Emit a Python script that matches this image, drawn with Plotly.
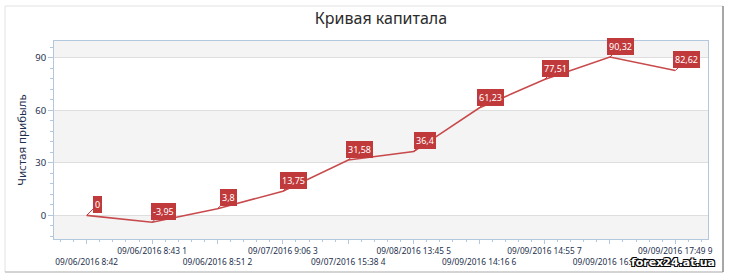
import plotly.graph_objects as go

# ---- data ----
trade_idx = [0, 1, 2, 3, 4, 5, 6, 7, 8, 9]
tick_labels = [
    "09/06/2016 8:42",
    "09/06/2016 8:43 1",
    "09/06/2016 8:51 2",
    "09/07/2016 9:06 3",
    "09/07/2016 15:38 4",
    "09/08/2016 13:45 5",
    "09/09/2016 14:16 6",
    "09/09/2016 14:55 7",
    "09/09/2016 16:51 8",
    "09/09/2016 17:49 9",
]
net_profit = [0, -3.95, 3.8, 13.75, 31.58, 36.4, 61.23, 77.51, 90.32, 82.62]
y_ticks = [0, 30, 60, 90]

W, H = 729, 278
ML, MR, MT, MB = 54, 21, 41, 39
YR = [-13.5, 99.5]
LINE = "#c84a4c"
LBL = "#c0393b"
AXC = "#b3c7de"
TXT = "#1e2f4d"
FONT = "Noto Sans"

def fmt(v):
    return ("%g" % v).replace(".", ",")

# staggered tick labels: even -> lower row, odd -> upper row
ticktext = [("<br>" + t) if i % 2 == 0 else t for i, t in enumerate(tick_labels)]

fig = go.Figure()
fig.add_trace(go.Scatter(
    x=trade_idx, y=net_profit, mode="lines",
    line=dict(color=LINE, width=1.6), hoverinfo="skip", showlegend=False,
))

# alternating background bands
shapes = []
bands = [(YR[0], 0, True), (0, 30, False), (30, 60, True), (60, 90, False), (90, YR[1], True)]
for y0, y1, filled in bands:
    if filled:
        shapes.append(dict(type="rect", xref="paper", yref="y", x0=0, x1=1, y0=y0, y1=y1,
                           fillcolor="#f4f4f4", line=dict(width=0), layer="below"))

# outer frame
pw = W - ML - MR
ph = H - MT - MB
def px2paper_x(px):
    return (px - ML) / pw
def py2paper_y(py):
    return (H - MB - py) / ph
fx0, fx1 = px2paper_x(5), px2paper_x(723)
fy0, fy1 = py2paper_y(272), py2paper_y(6)
shapes += [
    dict(type="line", xref="paper", yref="paper", x0=fx0, x1=fx1, y0=fy1, y1=fy1, line=dict(color="#e2e2e2", width=1)),
    dict(type="line", xref="paper", yref="paper", x0=fx0, x1=fx0, y0=fy0, y1=fy1, line=dict(color="#e2e2e2", width=1)),
    dict(type="line", xref="paper", yref="paper", x0=fx0, x1=fx1, y0=fy0, y1=fy0, line=dict(color="#a8a8a8", width=1)),
    dict(type="line", xref="paper", yref="paper", x0=fx1, x1=fx1, y0=fy0, y1=fy1, line=dict(color="#8a8a8a", width=1.5)),
]

annotations = []
for xi, v in zip(trade_idx, net_profit):
    annotations.append(dict(
        x=xi, y=v, xref="x", yref="y", text=fmt(v),
        showarrow=True, ax=11, ay=-11, arrowhead=0, arrowwidth=1, arrowcolor=LBL,
        bgcolor=LBL, bordercolor=LBL, borderwidth=1, borderpad=1,
        font=dict(color="white", size=9, family=FONT),
    ))

# watermark
annotations.append(dict(
    x=px2paper_x(673), y=py2paper_y(262), xref="paper", yref="paper",
    xanchor="center", yanchor="middle",
    text="<b>forex24.at.ua</b>", showarrow=False,
    font=dict(color="white", size=11, family="DejaVu Sans",
              shadow="1px 1px 0 #000, -1px -1px 0 #000, 1px -1px 0 #000, -1px 1px 0 #000"),
))

fig.update_layout(
    width=W, height=H,
    margin=dict(l=ML, r=MR, t=MT, b=MB, autoexpand=False),
    paper_bgcolor="white", plot_bgcolor="white",
    font=dict(family=FONT, color=TXT, size=10),
    title=dict(text="Кривая капитала", x=0.5, xref="paper", y=1 - 18 / H, yanchor="middle",
               font=dict(size=16, color="#2b2b2b", family=FONT)),
    shapes=shapes, annotations=annotations,
    xaxis=dict(
        range=[-0.5, 9.5], tickmode="array", tickvals=trade_idx, ticktext=ticktext,
        ticks="outside", ticklen=4, tickcolor=AXC, showline=True, linecolor=AXC, mirror=True,
        showgrid=False, zeroline=False, tickangle=0, automargin=False,
        tickfont=dict(size=8.3, color=TXT, family=FONT),
        minor=dict(dtick=0.2, ticks="outside", ticklen=2, tickcolor=AXC, showgrid=False),
    ),
    yaxis=dict(
        range=YR, tickmode="array", tickvals=y_ticks, automargin=False,
        ticks="outside", ticklen=5, tickcolor=AXC, showline=True, linecolor=AXC, mirror=True,
        showgrid=True, gridcolor="#dedede", gridwidth=1, zeroline=False,
        tickfont=dict(size=9.5, color=TXT, family=FONT),
        minor=dict(dtick=6, tick0=0, ticks="outside", ticklen=3, tickcolor=AXC, showgrid=False),
        title=dict(text="Чистая прибыль", standoff=6, font=dict(size=11.5, color=TXT, family=FONT)),
    ),
)

fig.write_html("out.html")
